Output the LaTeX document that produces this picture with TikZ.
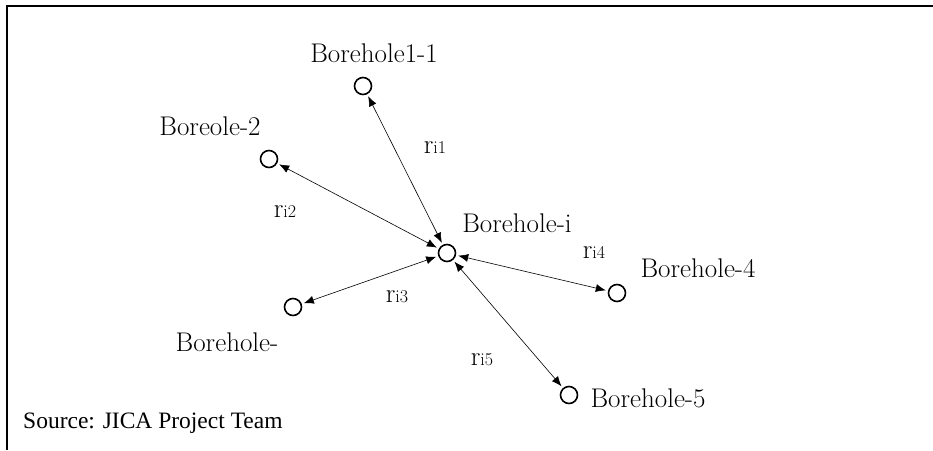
\documentclass[tikz,border=0pt]{standalone}
\usepackage{fontspec}
\newfontfamily\srcfont{Liberation Serif}
\usetikzlibrary{arrows.meta}
\newcommand{\rlab}[1]{r{\fontsize{18}{22}\selectfont #1}}
\begin{document}
\begin{tikzpicture}[x=1pt,y=-1pt]
\tikzstyle{every node}+=[inner sep=0pt]
\tikzstyle{hole}=[circle,draw,line width=1.6pt,minimum size=17pt,outer sep=3pt]
\tikzstyle{link}=[{Latex[length=10pt,width=8pt]}-{Latex[length=10pt,width=8pt]},line width=0.6pt]
\tikzstyle{lbl}=[font=\fontsize{27}{32}\selectfont]

\useasboundingbox (0,0) rectangle (933,450);
\draw[line width=2.4pt] (7,450) -- (7,6) -- (933,6);

% boreholes
\node[hole] (hi) at (447,253) {};
\node[hole] (h1) at (363,86) {};
\node[hole] (h2) at (269,159) {};
\node[hole] (h3) at (293,307) {};
\node[hole] (h4) at (617,293) {};
\node[hole] (h5) at (569,395) {};

% names
\draw (517,223) node[lbl] (ni) {Borehole-i};
\draw (374,53) node[lbl] (n1) {Borehole1-1};
\draw (210,126) node[lbl] (n2) {Boreole-2};
\draw (227,342) node[lbl] (n3) {Borehole-};
\draw (698,268) node[lbl] (n4) {Borehole-4};
\draw (648,398) node[lbl] (n5) {Borehole-5};

% distances
\draw [link] (hi) -- (h1);
\draw [link] (hi) -- (h2);
\draw [link] (hi) -- (h3);
\draw [link] (hi) -- (h4);
\draw [link] (hi) -- (h5);
\draw (435,148) node[lbl] (r1) {\rlab{i1}};
\draw (285,212) node[lbl] (r2) {\rlab{i2}};
\draw (397,297) node[lbl] (r3) {\rlab{i3}};
\draw (594,252) node[lbl] (r4) {\rlab{i4}};
\draw (482,360) node[lbl] (r5) {\rlab{i5}};

\draw (23,423) node[anchor=west,font=\fontsize{23.5}{28}\selectfont] (src) {\srcfont Source: JICA Project Team};
\end{tikzpicture}
\end{document}
